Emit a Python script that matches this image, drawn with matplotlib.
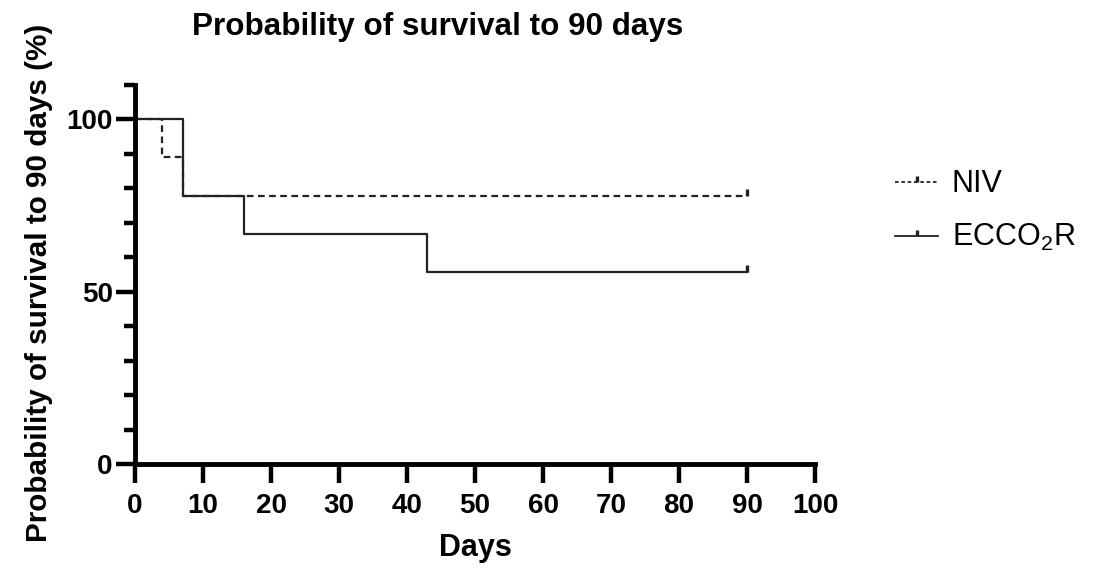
from matplotlib import pyplot as plt
from matplotlib.path import Path
import numpy as np

plt.rcParams['font.family'] = ['Liberation Sans', 'DejaVu Sans']
plt.rcParams['mathtext.fontset'] = 'custom'
plt.rcParams['mathtext.rm'] = 'Liberation Sans'
plt.rcParams['mathtext.it'] = 'Liberation Sans'

# Kaplan-Meier steps (days, survival %)
niv_days = [0, 4, 7, 90]
niv_surv = [100, 88.9, 77.8, 77.8]
ecco_days = [0, 7, 16, 43, 90]
ecco_surv = [100, 77.8, 66.7, 55.6, 55.6]

x_ticks = np.arange(0, 101, 10)
y_major = [0, 50, 100]
y_minor = [10, 20, 30, 40, 60, 70, 80, 90, 110]

# censor mark: short tick pointing up from the curve
censor = Path([(0, 0), (0, 1)])

fig = plt.figure(figsize=(10.96, 5.68), dpi=100)
ax = fig.add_axes([0.1232, 0.1831, 0.6204, 0.6681])

ax.step(niv_days, niv_surv, where='post', color='#222222', lw=1.6,
        ls=(0, (3, 2)), marker=censor, markevery=[len(niv_days) - 1],
        markersize=10, markeredgewidth=2.4, label='NIV')
ax.step(ecco_days, ecco_surv, where='post', color='#222222', lw=1.6,
        marker=censor, markevery=[len(ecco_days) - 1],
        markersize=10, markeredgewidth=2.4, label='ECCO$_2$R')

ax.set_xlim(0, 100)
ax.set_ylim(0, 110)
ax.set_xticks(x_ticks)
ax.set_yticks(y_major)
ax.set_yticks(y_minor, minor=True)

for s in ['top', 'right']:
    ax.spines[s].set_visible(False)
for s in ['left', 'bottom']:
    ax.spines[s].set_linewidth(3.5)

ax.tick_params(axis='both', which='major', length=14, width=3.2,
               labelsize=20)
ax.tick_params(axis='x', which='major', pad=7)
ax.tick_params(axis='y', which='major', pad=2)
ax.tick_params(axis='y', which='minor', length=8, width=3.2)
for lab in ax.get_xticklabels() + ax.get_yticklabels():
    lab.set_fontweight('bold')

fig.text(0.4335, 0.035, 'Days', ha='center', va='center', fontsize=22,
         fontweight='bold')
fig.text(0.036, 0.502, 'Probability of survival to 90 days (%)', rotation=90,
         ha='center', va='center', fontsize=21.3, fontweight='bold')
fig.text(0.399, 0.953, 'Probability of survival to 90 days', ha='center',
         va='center', fontsize=22.6, fontweight='bold')

leg = fig.legend(loc='center left', bbox_to_anchor=(0.817, 0.628),
                 frameon=False, fontsize=22, handlelength=1.4,
                 handletextpad=0.45, labelspacing=0.75, numpoints=1,
                 borderaxespad=0, borderpad=0)
for h in leg.legend_handles:
    h.set_markersize(8)
    h.set_linewidth(1.3)
    if h.get_linestyle() != '-':
        h.set_linestyle((0, (2, 1.5)))

plt.savefig('out.png', dpi=100)
